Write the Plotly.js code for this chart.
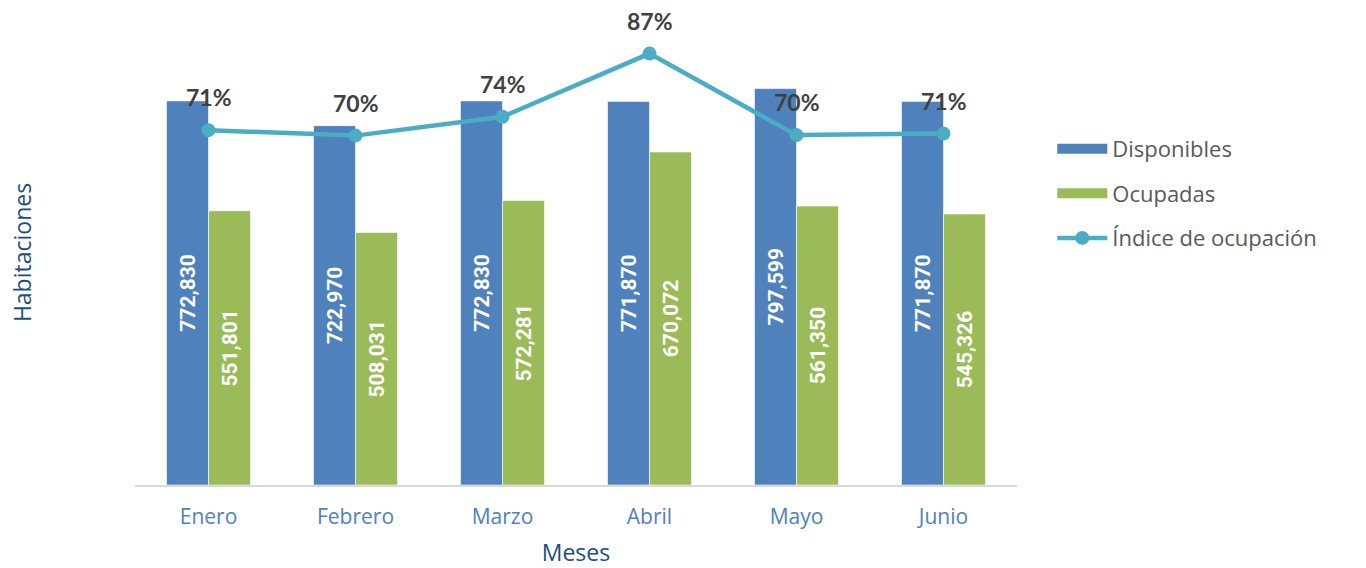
<!DOCTYPE html>
<html>
<head>
<meta charset="utf-8">
<script src="https://cdn.plot.ly/plotly-3.0.1.min.js"></script>
<style>html,body{margin:0;padding:0;background:#fff;}#chart{width:1366px;height:568px;}</style>
</head>
<body>
<div id="chart"></div>
<script>
const meses = ["Enero", "Febrero", "Marzo", "Abril", "Mayo", "Junio"];
const disponibles = [772830, 722970, 772830, 771870, 797599, 771870];
const ocupadas = [551801, 508031, 572281, 670072, 561350, 545326];
const indice = [0.714, 0.703, 0.741, 0.868, 0.704, 0.707];
const indiceLabels = ["71%", "70%", "74%", "87%", "70%", "71%"];

const fmt = v => v.toLocaleString("en-US");
const barFont = {family: "Roboto, 'DejaVu Sans', sans-serif", size: 21, color: "#ffffff", weight: 700};
const colDisp = "#4F81BD", colOcup = "#9BBB59", colInd = "#4BACC6";

const traces = [
  {
    type: "bar", name: "Disponibles", x: meses, y: disponibles, showlegend: false,
    marker: {color: colDisp, line: {color: "rgba(255,255,255,0.6)", width: 1}},
    text: disponibles.map(fmt), textposition: "inside", insidetextanchor: "middle",
    textangle: -90, textfont: barFont, constraintext: "none"
  },
  {
    type: "bar", name: "Ocupadas", x: meses, y: ocupadas, showlegend: false,
    marker: {color: colOcup, line: {color: "rgba(255,255,255,0.6)", width: 1}},
    text: ocupadas.map(fmt), textposition: "inside", insidetextanchor: "middle",
    textangle: -90, textfont: barFont, constraintext: "none"
  },
  {
    type: "scatter", mode: "lines+markers", name: "Índice de ocupación", legendgroup: "c",
    x: meses, y: indice, yaxis: "y2", legendrank: 3,
    line: {color: colInd, width: 4.5},
    marker: {color: colInd, size: 14}
  },
  // legend keys for the bar series (wide rectangles as in the reference)
  {type: "scatter", mode: "lines", name: "Disponibles", legendgroup: "a", legendrank: 1,
   x: [null], y: [null], line: {color: colDisp, width: 14}},
  {type: "scatter", mode: "lines", name: "Ocupadas", legendgroup: "b", legendrank: 2,
   x: [null], y: [null], line: {color: colOcup, width: 14}}
];

const annotations = meses.map((m, i) => ({
  x: m, y: indice[i], xref: "x", yref: "y2",
  text: indiceLabels[i], showarrow: false, yshift: 33,
  font: {family: "Lato, 'DejaVu Sans', sans-serif", size: 23, color: "#404040", weight: 700}
}));

const plotH = 465; // 485 - 20
const pxPerUnit = 0.000497;
const layout = {
  width: 1366, height: 568,
  margin: {l: 135, r: 349, t: 20, b: 83},
  paper_bgcolor: "#ffffff", plot_bgcolor: "#ffffff",
  barmode: "group", bargap: 0.4286, bargroupgap: 0,
  showlegend: true,
  legend: {
    x: 1.04, y: 0.768, xanchor: "left", yanchor: "top",
    font: {family: "'Open Sans', 'DejaVu Sans', sans-serif", size: 22, color: "#595959"},
    tracegroupgap: 13, itemwidth: 50
  },
  xaxis: {
    type: "category", showgrid: false, zeroline: false,
    showline: true, linecolor: "#D9D9D9", linewidth: 2,
    ticks: "", ticklen: 0, ticklabelstandoff: 12,
    tickfont: {family: "'Open Sans', 'DejaVu Sans', sans-serif", size: 21, color: "#4F81BD"},
    title: {text: "Meses", font: {family: "'Open Sans', 'DejaVu Sans', sans-serif", size: 23, color: "#1F4E79"}, standoff: 20}
  },
  yaxis: {
    range: [0, plotH / pxPerUnit], showgrid: false, zeroline: false,
    showticklabels: false, showline: false, ticks: "",
    title: {text: "Habitaciones", font: {family: "'Open Sans', 'DejaVu Sans', sans-serif", size: 23, color: "#1F4E79"}, standoff: 95}
  },
  yaxis2: {
    overlaying: "y", side: "right", range: [0, plotH / 497],
    showgrid: false, zeroline: false, showticklabels: false, showline: false, ticks: ""
  },
  annotations: annotations
};

Plotly.newPlot("chart", traces, layout, {displayModeBar: false, staticPlot: true});
</script>
</body>
</html>
